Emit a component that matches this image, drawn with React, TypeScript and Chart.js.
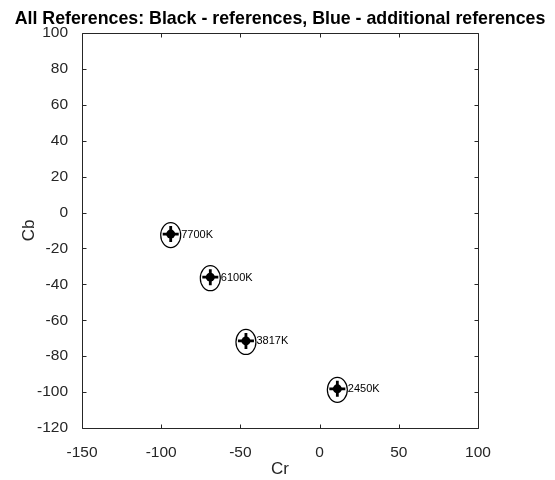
import React, { useEffect, useRef } from 'react';
import { Chart, registerables } from 'chart.js';

Chart.register(...registerables);

// ---- data ----
const crValues = [-94, -69, -46.5, 11.2];
const cbValues = [-12, -36, -71.5, -98.2];
const pointLabels = ['7700K', '6100K', '3817K', '2450K'];
const xTicks = [-150, -100, -50, 0, 50, 100];
const yTicks = [-120, -100, -80, -60, -40, -20, 0, 20, 40, 60, 80, 100];
const chartTitle = 'All References: Black - references, Blue - additional references';
const xAxisTitle = 'Cr';
const yAxisTitle = 'Cb';

const FONT = '"Liberation Sans", Arial, Helvetica, sans-serif';
const AXIS_COLOR = '#262626';

const matlabPlugin = {
  id: 'matlabLook',
  afterDatasetsDraw(chart: any) {
    const { ctx } = chart;
    const meta = chart.getDatasetMeta(0);
    ctx.save();
    // point labels
    ctx.fillStyle = '#000';
    ctx.font = `11px ${FONT}`;
    ctx.textAlign = 'left';
    ctx.textBaseline = 'middle';
    meta.data.forEach((pt: any, i: number) => {
      ctx.fillText(pointLabels[i], pt.x + 10.5, pt.y + 0.5);
    });
    // ellipses around each reference
    ctx.strokeStyle = '#000';
    ctx.lineWidth = 1.2;
    meta.data.forEach((pt: any) => {
      ctx.beginPath();
      ctx.ellipse(pt.x, pt.y + 1, 10, 12.5, 0, 0, Math.PI * 2);
      ctx.stroke();
    });
    ctx.restore();
  },
  afterDraw(chart: any) {
    const { ctx, chartArea, scales } = chart;
    const { left, right, top, bottom } = chartArea;
    ctx.save();
    ctx.strokeStyle = AXIS_COLOR;
    ctx.lineWidth = 1;
    const L = Math.round(left) + 0.5;
    const R = Math.round(right) + 0.5;
    const T = Math.round(top) + 0.5;
    const B = Math.round(bottom) + 0.5;
    ctx.beginPath();
    ctx.rect(L, T, R - L, B - T);
    ctx.stroke();
    const tl = 4;
    ctx.beginPath();
    scales.x.ticks.forEach((t: any) => {
      const px = Math.round(scales.x.getPixelForValue(t.value)) + 0.5;
      ctx.moveTo(px, B);
      ctx.lineTo(px, B - tl);
      ctx.moveTo(px, T);
      ctx.lineTo(px, T + tl);
    });
    scales.y.ticks.forEach((t: any) => {
      const py = Math.round(scales.y.getPixelForValue(t.value)) + 0.5;
      ctx.moveTo(L, py);
      ctx.lineTo(L + tl, py);
      ctx.moveTo(R, py);
      ctx.lineTo(R - tl, py);
    });
    ctx.stroke();
    // title centred over the axes
    ctx.fillStyle = '#000';
    ctx.font = `bold 17.8px ${FONT}`;
    ctx.textAlign = 'center';
    ctx.textBaseline = 'middle';
    ctx.fillText(chartTitle, (left + right) / 2, 19);
    ctx.restore();
  },
};

export default function App() {
  const canvasRef = useRef<HTMLCanvasElement | null>(null);

  useEffect(() => {
    const canvas = canvasRef.current;
    if (!canvas) return;
    const points = crValues.map((x, i) => ({ x, y: cbValues[i] }));
    const chart = new Chart(canvas, {
      type: 'scatter',
      data: {
        datasets: [
          {
            data: points,
            pointStyle: 'circle',
            pointRadius: 4.5,
            backgroundColor: '#000',
            borderColor: '#000',
            borderWidth: 0,
            showLine: false,
          },
          {
            data: points,
            pointStyle: 'cross',
            pointRadius: 8,
            borderColor: '#000',
            borderWidth: 2.8,
            showLine: false,
          },
        ],
      },
      plugins: [matlabPlugin],
      options: {
        responsive: false,
        animation: false,
        devicePixelRatio: 1,
        layout: { padding: { top: 33, right: 77, left: 0, bottom: 0 } },
        plugins: {
          legend: { display: false },
          tooltip: { enabled: false },
          title: { display: false },
        },
        scales: {
          x: {
            type: 'linear',
            min: xTicks[0],
            max: xTicks[xTicks.length - 1],
            grid: { display: false },
            border: { display: false },
            ticks: {
              stepSize: xTicks[1] - xTicks[0],
              color: AXIS_COLOR,
              font: { family: FONT, size: 15.5 },
              padding: 7,
              maxRotation: 0,
            },
            title: {
              display: true,
              text: xAxisTitle,
              color: AXIS_COLOR,
              font: { family: FONT, size: 17 },
              padding: { top: 0, bottom: 0 },
            },
            afterFit(scale: any) {
              scale.height = 52;
            },
          },
          y: {
            type: 'linear',
            min: yTicks[0],
            max: yTicks[yTicks.length - 1],
            grid: { display: false },
            border: { display: false },
            ticks: {
              stepSize: yTicks[1] - yTicks[0],
              color: AXIS_COLOR,
              font: { family: FONT, size: 15.5 },
              padding: 6,
            },
            title: {
              display: true,
              text: yAxisTitle,
              color: AXIS_COLOR,
              font: { family: FONT, size: 17 },
              padding: { top: 19, bottom: 0 },
            },
            afterFit(scale: any) {
              scale.width = 82;
            },
          },
        },
      },
    } as any);
    return () => chart.destroy();
  }, []);

  return (
    <div style={{ position: 'absolute', left: 0, top: 0, width: 555, height: 480, background: '#fff' }}>
      <canvas ref={canvasRef} width={555} height={480} style={{ display: 'block', width: 555, height: 480 }} />
    </div>
  );
}
